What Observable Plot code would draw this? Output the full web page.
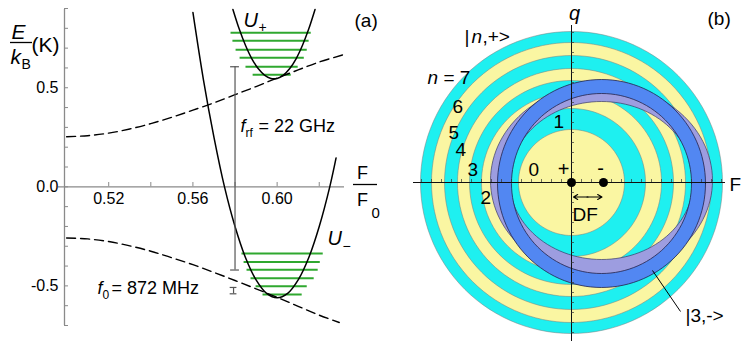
<!DOCTYPE html>
<html><head><meta charset="utf-8">
<script src="https://cdn.jsdelivr.net/npm/d3@7"></script>
<script src="https://cdn.jsdelivr.net/npm/@observablehq/plot@0.6"></script>
<style>
body{margin:0;background:#fff;}
#wrap{position:relative;width:743px;height:341px;overflow:hidden;background:#fff;}
#pa{position:absolute;left:0;top:0;}
#pb{position:absolute;left:390px;top:0;}
svg{overflow:visible;}
</style></head><body><div id="wrap"><div id="pa"></div><div id="pb"></div></div>
<script>
// ---------------- Panel (a) data ----------------
const upperX = [0.50,0.51,0.52,0.53,0.54,0.55,0.56,0.57,0.58,0.59,0.60,0.61,0.62,0.632];
const upperE = [0.253,0.258,0.271,0.292,0.319,0.351,0.387,0.424,0.465,0.506,0.549,0.590,0.630,0.668];
const lowerX = [0.50,0.51,0.52,0.53,0.54,0.55,0.56,0.57,0.58,0.59,0.60,0.61,0.62,0.6295];
const lowerE = [-0.258,-0.263,-0.276,-0.298,-0.325,-0.358,-0.393,-0.432,-0.473,-0.515,-0.558,-0.603,-0.648,-0.685];
const uPlusX = [0.579,0.582,0.585,0.588,0.591,0.594,0.597,0.5985,0.600,0.603,0.606,0.609,0.612,0.615,0.618];
const uPlusE = [0.895,0.796,0.713,0.646,0.597,0.564,0.547,0.545,0.547,0.564,0.597,0.646,0.713,0.796,0.895];
const uMinusX = [0.560,0.565,0.570,0.575,0.580,0.585,0.590,0.595,0.600,0.605,0.610,0.615,0.620,0.625,0.628];
const uMinusE = [0.88,0.54,0.25,0.0,-0.20,-0.358,-0.47,-0.538,-0.56,-0.538,-0.47,-0.358,-0.20,0.0,0.146];
const levelsPlusE  = [0.566,0.606,0.652,0.692,0.737,0.778];
const levelsPlusX1 = [0.5886,0.5852,0.5824,0.5805,0.5790,0.5781];
const levelsPlusX2 = [0.6067,0.6100,0.6129,0.6143,0.6152,0.6162];
const levelsMinusE  = [-0.544,-0.502,-0.461,-0.419,-0.379,-0.337];
const levelsMinusX1 = [0.5933,0.5900,0.5876,0.5857,0.5843,0.5833];
const levelsMinusX2 = [0.6119,0.6143,0.6176,0.6195,0.6205,0.6219];
const rfMarker = [0.5800, -0.42, 0.606];      // F, E bottom, E top
const f0Marker = [0.5793, -0.508, -0.540];    // F, E top, E bottom
const yMinorTicks = [-0.7,-0.6,-0.5,-0.4,-0.3,-0.2,-0.1,0,0.1,0.2,0.3,0.4,0.5,0.6,0.7,0.8,0.9];
const yLabelTicks = [-0.5, 0.0, 0.5];
const yTickLabels = ["-0.5", "0.0", "0.5"];
const xMinorTicks = [0.52,0.54,0.56,0.58,0.60,0.62];
const xLabelTicks = [0.52,0.56,0.60];
const xTickLabels = ["0.52","0.56","0.60"];

// ---------------- Panel (b) data ----------------
const ringN = [7,6,5,4,3,2,1,0];
const ringRadii = [15.1,14.0,12.7,11.4,10.2,9.0,7.4,5.3];
const dotF = [0, 3.2];
const dotLabels = ["+","-"];
const blueRing = [3.0, -0.1, 10.4, 9.0];             // cx, cy, rOut, rIn
const lavenderRing = [3.0, 0.2, 11.1, 9.6, 9.2, 7.9]; // cx, cy, rxOut, ryOut, rxIn, ryIn
const axisTicks = d3.range(-15, 16);

const FONT = "Liberation Sans, Arial, Helvetica, sans-serif";
const CYAN = "#1ef0f0", YEL = "#faf6a2", BLUE = "#5287f2", LAV = "#9d9de0";

function label(s, px, py, size, opt = {}) {
  return Plot.text([s], {
    text: d => d, frameAnchor: "top-left",
    dx: px - (opt.ml ?? 0), dy: py - (opt.mt ?? 0), lineAnchor: "bottom",
    textAnchor: opt.anchor ?? "start", fontSize: size,
    fontStyle: opt.italic ? "italic" : "normal", fill: "#000"
  });
}

// ---------- Panel (a) ----------
const ML = 64, MT = 8;
const X0 = 0.499, X1 = 0.632, Y0 = -0.7, Y1 = 0.9;
const kx = (390 - 46 - ML) / (X1 - X0), ky = (341 - 16 - MT) / (Y1 - Y0);
const toX = px => X0 + (px - ML) / kx;
const toY = py => Y1 - (py - MT) / ky;
const la = (s, px, py, size, opt = {}) => label(s, px, py, size, {...opt, ml: ML, mt: MT});

const plotA = Plot.plot({
  width: 390, height: 341, marginLeft: ML, marginRight: 46, marginTop: MT, marginBottom: 16,
  x: {domain: [X0, X1], axis: null},
  y: {domain: [Y0, Y1], axis: null},
  style: {fontFamily: FONT, background: "transparent", overflow: "visible"},
  marks: [
    Plot.ruleX([X0], {y1: Y0, y2: 0.895, stroke: "#8a8a8a", strokeWidth: 1.3}),
    Plot.ruleY(yMinorTicks, {x1: X0, x2: toX(68), stroke: "#8a8a8a", strokeWidth: 1}),
    Plot.ruleY([0], {x1: toX(58), x2: X1, stroke: "#8a8a8a", strokeWidth: 1.3}),
    Plot.ruleX(xMinorTicks, {y1: 0, y2: toY(182), stroke: "#8a8a8a", strokeWidth: 1}),
    Plot.text(yLabelTicks, {x: X0, y: d => d, dx: -6, text: yTickLabels, textAnchor: "end", fontSize: 16, fill: "#000"}),
    Plot.text(xLabelTicks, {x: d => d, y: 0, dy: 12, text: xTickLabels, fontSize: 16, fill: "#000"}),
    Plot.ruleY(levelsPlusE, {x1: levelsPlusX1, x2: levelsPlusX2, y: levelsPlusE, stroke: "#2fa82f", strokeWidth: 2}),
    Plot.ruleY(levelsMinusE, {x1: levelsMinusX1, x2: levelsMinusX2, y: levelsMinusE, stroke: "#2fa82f", strokeWidth: 2}),
    Plot.line(upperE, {x: upperX, y: upperE, stroke: "#000", strokeWidth: 1.4, strokeDasharray: "9,5", curve: "catmull-rom"}),
    Plot.line(lowerE, {x: lowerX, y: lowerE, stroke: "#000", strokeWidth: 1.4, strokeDasharray: "9,5", curve: "catmull-rom"}),
    Plot.line(uPlusE, {x: uPlusX, y: uPlusE, stroke: "#000", strokeWidth: 1.5, curve: "catmull-rom"}),
    Plot.line(uMinusE, {x: uMinusX, y: uMinusE, stroke: "#000", strokeWidth: 1.5, curve: "catmull-rom"}),
    Plot.ruleX([rfMarker[0]], {y1: rfMarker[1], y2: rfMarker[2], stroke: "#555", strokeWidth: 1.2}),
    Plot.ruleY([rfMarker[1], rfMarker[2]], {x1: rfMarker[0] - 0.0021, x2: rfMarker[0] + 0.0021, stroke: "#555", strokeWidth: 1.2}),
    Plot.ruleX([f0Marker[0]], {y1: f0Marker[1], y2: f0Marker[2], stroke: "#555", strokeWidth: 1.2}),
    Plot.ruleY([f0Marker[1], f0Marker[2]], {x1: f0Marker[0] - 0.0016, x2: f0Marker[0] + 0.0016, stroke: "#555", strokeWidth: 1.2}),
    // axis label E/kB (K)
    la("E", 18, 38, 21, {italic: true, anchor: "middle"}),
    Plot.ruleY([toY(42)], {x1: toX(10), x2: toX(32), stroke: "#000", strokeWidth: 1.3}),
    la("k", 10, 63, 21, {italic: true}),
    la("B", 21, 68, 14),
    la("(K)", 31, 51, 21),
    // F / F0
    la("F", 362, 178, 18, {anchor: "middle"}),
    Plot.ruleY([toY(184)], {x1: toX(353), x2: toX(377), stroke: "#000", strokeWidth: 1.3}),
    la("F", 362, 205, 18, {anchor: "middle"}),
    la("0", 371, 217, 15),
    la("(a)", 354, 26, 19),
    la("U", 243, 26, 20, {italic: true}),
    la("+", 258, 31, 14),
    la("U", 327, 244, 20, {italic: true}),
    la("\u2212", 342, 250, 14),
    la("f", 240, 131, 18, {italic: true}),
    la("rf", 245, 136, 12),
    la("= 22 GHz", 258, 131, 18),
    la("f", 97, 293, 18, {italic: true}),
    la("0", 102, 298, 12),
    la("= 872 MHz", 111, 293, 18)
  ]
});
document.getElementById("pa").appendChild(plotA);

// ---------- Panel (b) ----------
const OX = 390;
const lb = (s, px, py, size, opt = {}) => label(s, px - OX, py, size, opt);
const ANG = d3.range(0, 361, 3).map(a => a * Math.PI / 180);
const ellipse = (cx, cy, rx, ry) => ANG.map(t => [cx + rx * Math.cos(t), cy + ry * Math.sin(t)]);
const annulus = (cx, cy, rxo, ryo, rxi, ryi) => ellipse(cx, cy, rxo, ryo).concat(ellipse(cx, cy, rxi, ryi).reverse());
const px0 = d => d[0], py0 = d => d[1];

const diskMarks = ringRadii.map((r, i) => Plot.line(ellipse(0, 0, r, r), {
  x: px0, y: py0, fill: ringN[i] % 2 ? CYAN : YEL,
  stroke: "#7a7a7a", strokeWidth: 0.5, curve: "linear-closed"
}));
const [bcx, bcy, bro, bri] = blueRing;
const [lcx, lcy, lrxo, lryo, lrxi, lryi] = lavenderRing;

const plotB = Plot.plot({
  width: 353, height: 341, margin: 0,
  x: {domain: [-18.1, 17.2], axis: null},
  y: {domain: [-15.9, 18.2], axis: null},
  style: {fontFamily: FONT, background: "transparent", overflow: "visible"},
  marks: [
    ...diskMarks,
    Plot.line(annulus(lcx, lcy, lrxo, lryo, lrxi, lryi), {x: px0, y: py0, fill: LAV, stroke: "none"}),
    Plot.line(ellipse(lcx, lcy, lrxo, lryo), {x: px0, y: py0, stroke: "#3a3a66", strokeWidth: 0.7, curve: "linear-closed"}),
    Plot.line(ellipse(lcx, lcy, lrxi, lryi), {x: px0, y: py0, stroke: "#3a3a66", strokeWidth: 0.7, curve: "linear-closed"}),
    Plot.line(annulus(bcx, bcy, bro, bro, bri, bri), {x: px0, y: py0, fill: BLUE, stroke: "none"}),
    Plot.line(ellipse(bcx, bcy, bro, bro), {x: px0, y: py0, stroke: "#22224a", strokeWidth: 0.8, curve: "linear-closed"}),
    Plot.line(ellipse(bcx, bcy, bri, bri), {x: px0, y: py0, stroke: "#22224a", strokeWidth: 0.8, curve: "linear-closed"}),
    Plot.ruleY([0], {x1: -15.8, x2: 15.4, stroke: "#111", strokeWidth: 1}),
    Plot.ruleX([0], {y1: -16.5, y2: 15.7, stroke: "#111", strokeWidth: 1}),
    Plot.ruleX(axisTicks, {y1: 0, y2: 0.3, stroke: "#333", strokeWidth: 0.7}),
    Plot.ruleY(axisTicks, {x1: 0, x2: 0.3, stroke: "#333", strokeWidth: 0.7}),
    Plot.dot(dotF, {x: dotF, y: [0, 0], r: 4.5, fill: "#000", stroke: "none"}),
    Plot.arrow([0], {x1: 1.65, x2: 0.2, y1: -1.45, y2: -1.45, stroke: "#000", strokeWidth: 1.1, headLength: 7}),
    Plot.arrow([0], {x1: 1.55, x2: 3.05, y1: -1.45, y2: -1.45, stroke: "#000", strokeWidth: 1.1, headLength: 7}),
    Plot.link([0], {x1: 8.1, y1: -8.8, x2: 10.9, y2: -12.9, stroke: "#000", strokeWidth: 1}),
    lb("q", 574, 19, 20, {italic: true, anchor: "middle"}),
    lb("(b)", 707, 24, 19),
    lb("|", 464, 42, 19),
    lb("n", 471, 42, 19, {italic: true}),
    lb(",+>", 482, 42, 19),
    lb("n", 427, 83, 19, {italic: true}),
    lb("= 7", 443, 83, 19),
    lb("6", 452, 112, 19),
    lb("5", 448, 138, 19),
    lb("4", 455, 155, 19),
    lb("3", 467, 175, 19),
    lb("2", 480, 203, 19),
    lb("1", 553, 127, 19),
    lb("0", 528, 175, 19),
    lb(dotLabels[0], 563, 175, 20, {anchor: "middle"}),
    lb(dotLabels[1], 600, 174, 20, {anchor: "middle"}),
    lb("DF", 572, 220, 19),
    lb("F", 729, 190, 19),
    lb("|3,->", 685, 321, 19)
  ]
});
document.getElementById("pb").appendChild(plotB);
</script>
</body></html>
